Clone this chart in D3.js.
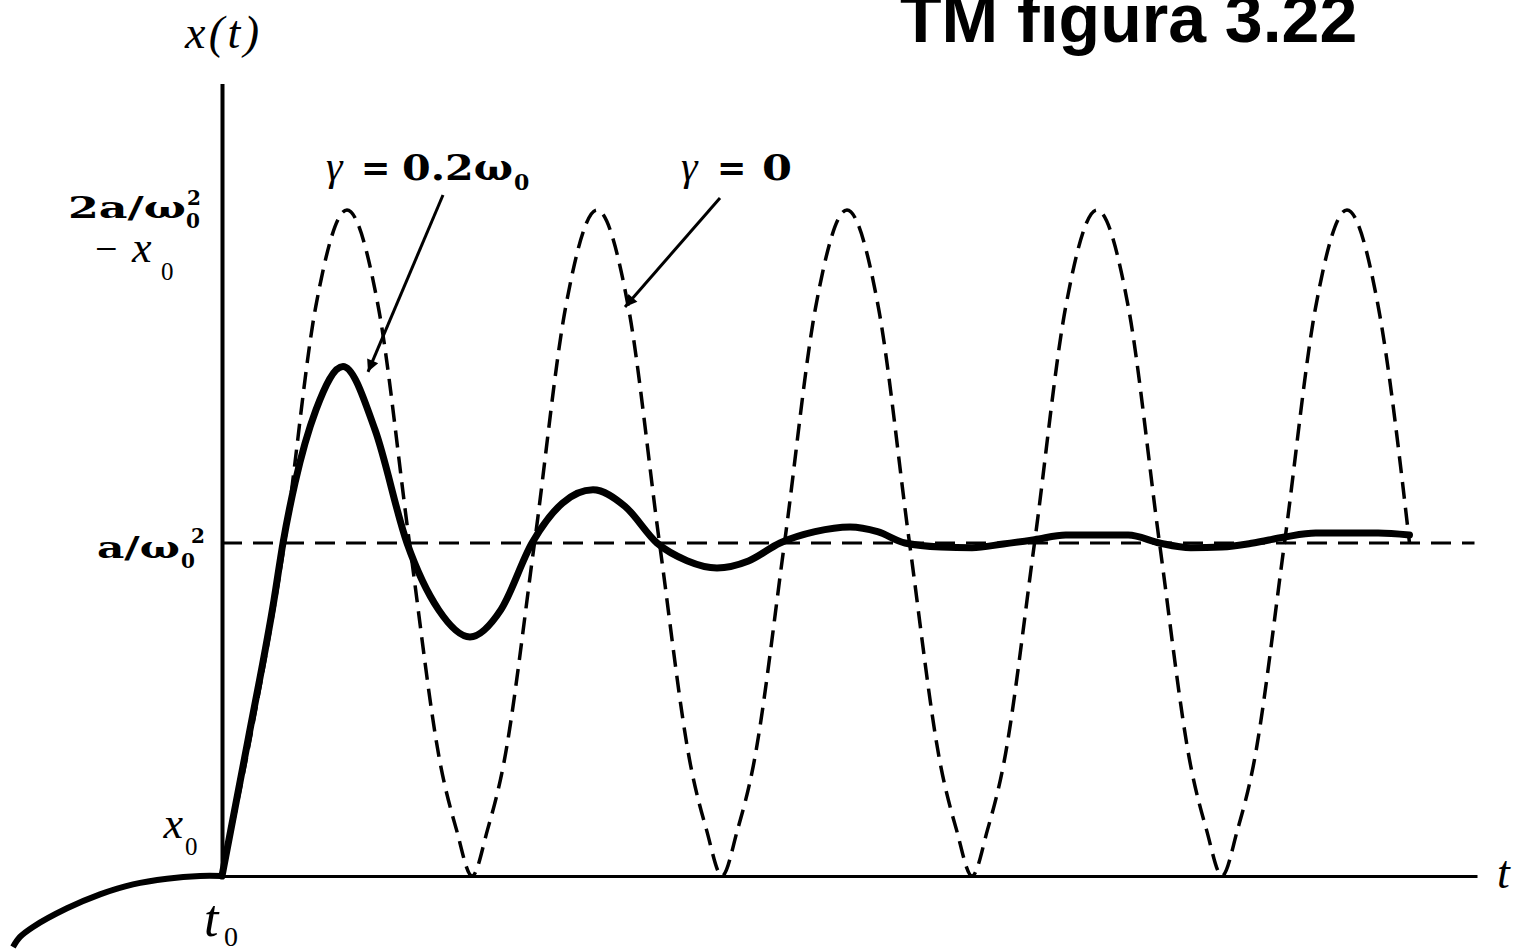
<!DOCTYPE html>
<html>
<head>
<meta charset="utf-8">
<script src="https://cdn.jsdelivr.net/npm/d3@7"></script>
<style>
  body { margin: 0; background: #fff; }
  svg { display: block; }
</style>
</head>
<body>
<div id="chart"></div>
<script>
// time in units of one undamped period, counted from t0
// x in units of a/w0^2 above x0  (0 = x0, 1 = a/w0^2, 2 = 2a/w0^2 - x0)

// gamma = 0 (dashed)
const undampedT = [0, 0.125, 0.25, 0.375, 0.5, 0.625, 0.75, 0.875, 0.9375,
  1, 1.0625, 1.125, 1.25, 1.375, 1.5, 1.625, 1.75, 1.875, 1.9375,
  2, 2.0625, 2.125, 2.25, 2.375, 2.5, 2.625, 2.75, 2.875, 2.9375,
  3, 3.0625, 3.125, 3.25, 3.375, 3.5, 3.625, 3.75, 3.875, 3.9375,
  4, 4.0625, 4.125, 4.25, 4.375, 4.5, 4.625, 4.75];
const undamped = [0, 0.46, 1, 1.71, 2, 1.71, 1, 0.33, 0.14,
  0, 0.14, 0.33, 1, 1.71, 2, 1.71, 1, 0.33, 0.14,
  0, 0.14, 0.33, 1, 1.71, 2, 1.71, 1, 0.33, 0.14,
  0, 0.14, 0.33, 1, 1.71, 2, 1.71, 1, 0.33, 0.14,
  0, 0.14, 0.33, 1, 1.71, 2, 1.71, 1];

// gamma = 0.2 w0 (solid)
const dampedT = [0, 0.104, 0.208, 0.244, 0.292, 0.376, 0.484, 0.612, 0.74,
  0.866, 0.992, 1.116, 1.24, 1.362, 1.484, 1.612, 1.74, 1.86, 1.98,
  2.106, 2.232, 2.372, 2.512, 2.622, 2.732, 2.875, 3, 3.125, 3.25,
  3.375, 3.5, 3.625, 3.75, 3.875, 4, 4.125, 4.25, 4.375, 4.5, 4.625, 4.75];
const damped = [0, 0.408, 0.829, 1.0, 1.18, 1.40, 1.53, 1.34, 1.0,
  0.80, 0.718, 0.80, 1.0, 1.12, 1.16, 1.11, 1.0, 0.947, 0.925,
  0.946, 1.0, 1.034, 1.048, 1.034, 1.0, 0.988, 0.986, 0.997, 1.01,
  1.024, 1.024, 1.024, 1.0, 0.986, 0.988, 1.0, 1.018, 1.03, 1.03, 1.03, 1.024];

// motion before t0
const beforeT = [-0.836, -0.808, -0.756, -0.62, -0.488, -0.356, -0.22, -0.088, 0];
const beforeX = [-0.213, -0.183, -0.153, -0.097, -0.055, -0.025, -0.008, 0, 0];

const equilibrium = 1;
const tAxisEnd = 5.02;
const xAxisTop = 2.38;

const width = 1513, height = 952;

const svg = d3.select("#chart")
  .append("svg")
  .attr("width", width)
  .attr("height", height);

const x = d3.scaleLinear().domain([0, 5]).range([222, 1472]);
const y = d3.scaleLinear().domain([0, 2]).range([876, 210]);

// arrow heads
svg.append("defs").append("marker")
  .attr("id", "arrow")
  .attr("viewBox", "0 0 10 10")
  .attr("refX", 10)
  .attr("refY", 5)
  .attr("markerUnits", "userSpaceOnUse")
  .attr("markerWidth", 20)
  .attr("markerHeight", 12)
  .attr("orient", "auto")
  .append("path")
  .attr("d", "M0,0L10,5L0,10z")
  .attr("fill", "#000");

// Axes (lines only, no ticks)
const xAxisScale = d3.scaleLinear().domain([0, tAxisEnd]).range([x(0), x(tAxisEnd)]);
const gx = svg.append("g")
  .attr("transform", "translate(0," + y(0) + ")")
  .call(d3.axisBottom(xAxisScale).tickValues([]).tickSizeOuter(0));
gx.select(".domain").attr("stroke", "#000").attr("stroke-width", 3);

const yAxisScale = d3.scaleLinear().domain([0, xAxisTop]).range([y(0), y(xAxisTop)]);
const gy = svg.append("g")
  .attr("transform", "translate(" + x(0) + ",0)")
  .call(d3.axisLeft(yAxisScale).tickValues([]).tickSizeOuter(0));
gy.select(".domain").attr("stroke", "#000").attr("stroke-width", 4);

const line = d3.line()
  .x(d => x(d[0]))
  .y(d => y(d[1]))
  .curve(d3.curveMonotoneX);

// a/w0^2 level
svg.append("path")
  .datum([[0, equilibrium], [5.01, equilibrium]])
  .attr("d", d3.line().x(d => x(d[0])).y(d => y(d[1])))
  .attr("fill", "none")
  .attr("stroke", "#000")
  .attr("stroke-width", 3)
  .attr("stroke-dasharray", "20,11");

// gamma = 0
svg.append("path")
  .datum(undampedT.map((t, i) => [t, undamped[i]]))
  .attr("d", line)
  .attr("fill", "none")
  .attr("stroke", "#000")
  .attr("stroke-width", 3.5)
  .attr("stroke-dasharray", "17,9");

// gamma = 0.2 w0
svg.append("path")
  .datum(dampedT.map((t, i) => [t, damped[i]]))
  .attr("d", line)
  .attr("fill", "none")
  .attr("stroke", "#000")
  .attr("stroke-width", 7)
  .attr("stroke-linecap", "round");

// before t0
svg.append("path")
  .datum(beforeT.map((t, i) => [t, beforeX[i]]))
  .attr("d", line.curve(d3.curveCatmullRom))
  .attr("fill", "none")
  .attr("stroke", "#000")
  .attr("stroke-width", 6);

// annotation arrows
const arrows = [
  { from: [0.884, 2.045], to: [0.584, 1.514] },
  { from: [1.992, 2.036], to: [1.612, 1.709] }
];
svg.selectAll(".arrow")
  .data(arrows)
  .enter().append("line")
  .attr("class", "arrow")
  .attr("x1", d => x(d.from[0]))
  .attr("y1", d => y(d.from[1]))
  .attr("x2", d => x(d.to[0]))
  .attr("y2", d => y(d.to[1]))
  .attr("stroke", "#000")
  .attr("stroke-width", 3)
  .attr("marker-end", "url(#arrow)");

// Text helpers
const serif = "'Liberation Serif', 'DejaVu Serif', serif";
const wide = "'DejaVu Serif', serif";

function label(px, py, txt, opts) {
  const o = opts || {};
  const t = svg.append("text")
    .attr("x", px)
    .attr("y", py)
    .attr("font-family", o.family || serif)
    .attr("font-size", o.size || 40)
    .attr("font-style", o.italic ? "italic" : "normal")
    .attr("font-weight", o.bold ? "bold" : "normal")
    .attr("text-anchor", o.anchor || "start")
    .attr("fill", "#000")
    .text(txt);
  if (o.len) t.attr("textLength", o.len).attr("lengthAdjust", o.adjust || "spacing");
  return t;
}

// title
label(900, 42, "TM figura 3.22", { family: "'Liberation Sans', Arial, sans-serif", size: 68, bold: true });

// axis names
label(x(0), 48, "x(t)", { italic: true, size: 46, anchor: "middle", len: 74 });
label(1497, 888, "t", { italic: true, size: 46 });

// 2a/w0^2 - x0
label(186, y(2) + 8, "2a/ω", { family: wide, bold: true, size: 30, anchor: "end", len: 118, adjust: "spacingAndGlyphs" });
label(186, y(2) + 18, "0", { family: wide, bold: true, size: 20 });
label(187, y(2) - 5, "2", { family: wide, bold: true, size: 20 });
label(95, y(2) + 52, "−", { size: 40 });
label(132, y(2) + 52, "x", { italic: true, size: 44 });
label(161, y(2) + 70, "0", { size: 25 });

// a/w0^2
label(180, y(1) + 15, "a/ω", { family: wide, bold: true, size: 30, anchor: "end", len: 83, adjust: "spacingAndGlyphs" });
label(181, y(1) + 25, "0", { family: wide, bold: true, size: 20 });
label(191, y(1), "2", { family: wide, bold: true, size: 20 });

// x0 and t0
label(183, y(0) - 38, "x", { italic: true, size: 44, anchor: "end" });
label(185, y(0) - 21, "0", { size: 25 });
label(204, 936, "t", { italic: true, size: 52 });
label(224, 946, "0", { size: 28 });

// gamma = 0.2 w0 label
label(326, 180, "γ", { italic: true, size: 42 });
label(361, 180, "=", { family: wide, bold: true, size: 35 });
label(402, 180, "0.2ω", { family: wide, bold: true, size: 35, len: 111, adjust: "spacingAndGlyphs" });
label(514, 190, "0", { family: wide, bold: true, size: 22 });

// gamma = 0 label
label(681, 180, "γ", { italic: true, size: 42 });
label(717, 180, "=", { family: wide, bold: true, size: 35 });
label(762, 180, "0", { family: wide, bold: true, size: 35, len: 30, adjust: "spacingAndGlyphs" });
</script>
</body>
</html>
